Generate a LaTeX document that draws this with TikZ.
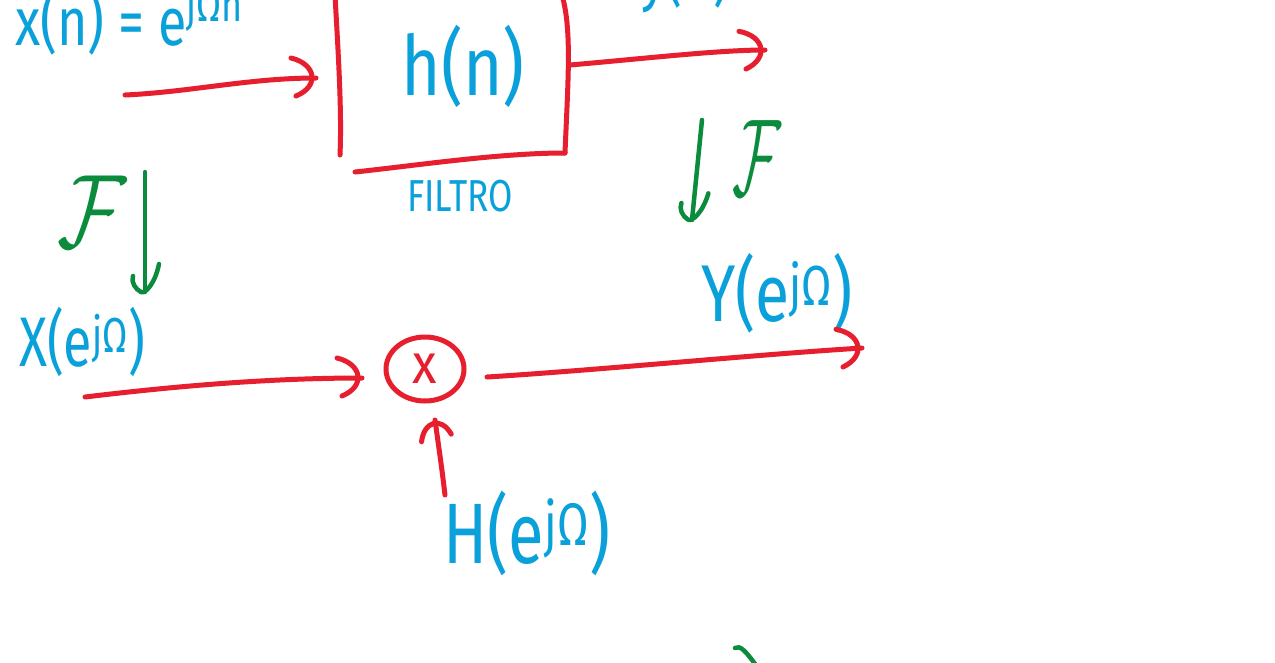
\documentclass[tikz,border=0pt]{standalone}
\usepackage{fontspec}
\setmainfont{Fira Sans}
\usetikzlibrary{arrows.meta,shapes.geometric}
\definecolor{pen}{RGB}{10,160,218}
\definecolor{ink}{RGB}{230,30,45}
\definecolor{grn}{RGB}{10,140,60}
\begin{document}
\begin{tikzpicture}[x=1pt,y=-1pt,line cap=round,line join=round,
  redline/.style={draw=ink,line width=5pt},
  grnline/.style={draw=grn,line width=4.5pt},
  lbl/.style={text=pen,inner sep=0pt,font=\fontsize{52}{60}\selectfont},
  small/.style={text=pen,inner sep=0pt,font=\fontsize{32}{36}\selectfont},
  fsym/.style={text=grn,inner sep=0pt,font=\fontsize{24.88}{30}\selectfont},
  hhead/.pic={\draw[pic actions] (-25,-20) .. controls (0,-14) and (4,8) .. (-20,18);},
  ghead/.pic={\draw[pic actions] (-28,-14) .. controls (-8,-10) and (2,0) .. (0,4) .. controls (-3,10) and (-10,14) .. (-16,12);}]
\useasboundingbox (0,0) rectangle (1275,662);
\clip (0,0) rectangle (1275,662);
\fill[white] (0,0) rectangle (1275,662);

% top row
\node[lbl,anchor=base west] (xn) at (15,45) {\scalebox{1}[1.3]{x(n) = e\raisebox{18pt}{\fontsize{36}{40}\selectfont jΩn}}};
\node[lbl,anchor=base west] (yn) at (640,-2) {\scalebox{1}[1.3]{y(n)}};
\node[lbl] (filt) at (463,66) {\scalebox{1.3}[1.6]{h(n)}};
\node[small] (ftxt) at (460,196) {\scalebox{1.1}[1.4]{FILTRO}};

% box strokes
\draw[redline] (335,-5) .. controls (338,50) and (342,110) .. (340,155);
\draw[redline] (355,172) .. controls (420,165) and (500,153) .. (565,153);
\draw[redline] (562,-5) .. controls (572,30) and (568,80) .. (565,153);

\coordinate (a1s) at (125,95);
\coordinate (boxL) at (316,78);
\coordinate (boxR) at (570,65);
\coordinate (a2e) at (765,50);
\draw[redline] (a1s) .. controls (190,92) and (250,78) .. (boxL);
\pic[redline] at (boxL) {hhead};
\draw[redline] (boxR) .. controls (650,58) and (720,50) .. (a2e);
\pic[redline,rotate=3] at (a2e) {hhead};

% Fourier arrows
\node[fsym] (fl) at (92,212) {\scalebox{3.4}[4.2]{$\mathcal{F}$}};
\node[fsym] (fr) at (757,158) {\scalebox{2.4}[4.4]{$\mathcal{F}$}};
\coordinate (gls) at (145,172);
\coordinate (gle) at (145,292);
\coordinate (grs) at (702,120);
\coordinate (gre) at (692,220);
\draw[grnline] (gls) -- (gle);
\pic[grnline,rotate=-90] at (gle) {ghead};
\draw[grnline] (grs) .. controls (698,160) .. (gre);
\pic[grnline,rotate=-95] at (gre) {ghead};

% bottom row
\node[lbl] (X) at (82,342) {\scalebox{1}[1.35]{X(e\textsuperscript{jΩ})}};
\node[ellipse,draw=ink,line width=5pt,minimum width=78pt,minimum height=64pt,inner sep=0pt] (mul) at (425,369) {};
\node[text=ink,font=\fontsize{56}{60}\selectfont,inner sep=0pt] at (mul) {\scalebox{0.9}[1]{x}};
\node[lbl] (Y) at (777,293) {\scalebox{1.2}[1.55]{Y(e\textsuperscript{jΩ})}};
\node[lbl] (H) at (527,533) {\scalebox{1.25}[1.65]{H(e\textsuperscript{jΩ})}};

\coordinate (a3s) at (85,397);
\coordinate (mulL) at (362,378);
\coordinate (mulR) at (487,377);
\coordinate (a4e) at (862,348);
\coordinate (a5s) at (445,495);
\coordinate (mulB) at (435,420);
\draw[redline] (a3s) .. controls (160,388) and (260,378) .. (mulL);
\pic[redline] at (mulL) {hhead};
\draw[redline] (mulR) .. controls (600,370) and (750,355) .. (a4e);
\pic[redline,rotate=3] at (a4e) {hhead};
\draw[redline] (a5s) .. controls (442,470) .. (mulB);
\pic[redline,rotate=97,scale=0.8] at (mulB) {hhead};

% stray stroke at bottom
\draw[grnline] (735,648) .. controls (740,645) and (745,650) .. (758,668);
\end{tikzpicture}
\end{document}
